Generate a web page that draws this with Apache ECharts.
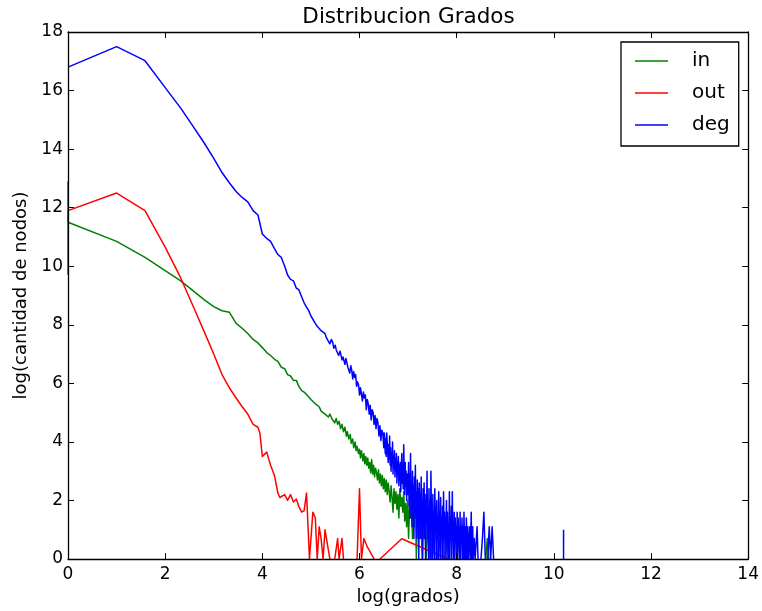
<!DOCTYPE html>
<html>
<head>
<meta charset="utf-8">
<script src="https://cdn.jsdelivr.net/npm/echarts@6/dist/echarts.min.js"></script>
<style>
html,body{margin:0;padding:0;background:#fff;}
#chart{width:762px;height:611px;}
</style>
</head>
<body>
<div id="chart"></div>
<script>
// Series names and colours (matplotlib classic g / r / b)
const seriesNames = ['in', 'out', 'deg'];
const seriesColors = ['#008000', '#ff0000', '#0000ff'];

// Axis settings
const xMin = 0, xMax = 14, xStep = 2;
const yMin = 0, yMax = 18, yStep = 2;

// [log(grados), log(cantidad de nodos)]; '-' = gap in the line
const inPoints = [
[0,12.9],[0,11.5],[1,10.85],[1.585,10.3],[2,9.85],[2.32,9.5],[2.585,9.15],[2.807,8.85],[3,8.62],[3.17,8.48],[3.32,8.43],[3.46,8.05],[3.585,7.88],[3.7,7.7],[3.81,7.5],[3.91,7.38],[4,7.22],[4.09,7.05],[4.17,6.95],[4.25,6.82],[4.32,6.75],[4.39,6.55],[4.46,6.5],[4.52,6.3],[4.58,6.25],[4.64,6.1],[4.7,6.1],[4.75,5.9],[4.81,5.75],[4.86,5.7],[4.91,5.62],[4.95,5.6],[5,5.45],[5.04,5.5],[5.09,5.3],[5.13,5.35],[5.17,5.2],[5.21,5.05],[5.25,5.1],[5.29,4.95],[5.32,5.0],[5.36,4.85],[5.39,4.95],[5.43,4.8],[5.46,4.85],[5.49,4.65],[5.52,4.8],[5.55,4.6],[5.58,4.7],[5.61,4.45],[5.64,4.6],[5.67,4.35],[5.7,4.5],[5.73,4.2],[5.75,4.35],[5.78,4.1],[5.81,4.25],[5.83,3.95],[5.86,4.1],[5.88,3.8],[5.91,4.0],[5.93,3.7],[5.95,3.85],[5.98,3.6],[6,3.75],[6.02,3.45],[6.04,3.7],[6.07,3.35],[6.09,3.6],[6.11,3.25],[6.13,3.5],[6.15,3.2],[6.17,3.45],[6.19,3.1],[6.21,3.3],[6.23,2.95],[6.25,3.4],[6.27,2.9],[6.29,3.2],[6.31,2.8],[6.33,3.1],[6.35,2.95],[6.37,2.7],[6.39,3.05],[6.41,2.6],[6.43,2.9],[6.45,2.5],[6.47,2.85],[6.49,2.4],[6.51,2.75],[6.53,2.3],[6.55,2.7],[6.57,2.2],[6.59,2.6],[6.61,2.3],[6.63,1.95],[6.65,2.5],[6.67,2.1],[6.69,1.6],[6.71,2.4],[6.73,1.9],[6.75,2.3],[6.77,1.7],[6.79,2.2],[6.81,1.4],[6.83,2.4],[6.85,1.8],[6.87,2.1],[6.89,1.6],[6.91,2.3],[6.93,1.3],[6.95,1.9],[6.97,1.1],[6.99,2.0],[7.01,0.7],[7.03,1.8],[7.05,1.4],[7.07,2.0],[7.09,0.7],[7.11,1.6],[7.13,1.1],[7.15,1.9],[7.17,0],[7.19,1.4],[7.21,1.6],[7.23,0.7],[7.25,1.9],[7.27,1.1],[7.29,0],[7.31,1.4],[7.33,0.7],[7.35,1.1],[7.37,0],[7.39,0.7],[7.41,1.4],[7.43,0],[7.46,1.1],[7.49,0],[7.52,0.7],[7.55,0],[7.57,'-'],[7.6,0],[7.64,0.7],[7.67,0],[7.7,'-'],[7.75,0],[7.8,0.7],[7.83,0],[7.9,'-'],[8.0,0],[8.04,0.7],[8.07,0],[8.1,'-'],[8.17,0],[8.2,0.7],[8.23,0],[8.4,'-'],[8.6,0],[8.63,0.7],[8.66,0]
];

const outPoints = [
[0,9.7],[0,11.9],[1,12.5],[1.585,11.9],[2,10.65],[2.32,9.6],[2.585,8.6],[2.807,7.75],[3,7.0],[3.17,6.3],[3.32,5.85],[3.46,5.5],[3.585,5.2],[3.7,4.95],[3.81,4.6],[3.91,4.5],[3.95,4.3],[4.0,3.5],[4.09,3.65],[4.17,3.2],[4.25,2.85],[4.32,2.25],[4.36,2.1],[4.46,2.2],[4.52,2.0],[4.58,2.2],[4.64,1.95],[4.7,2.05],[4.75,1.8],[4.81,1.6],[4.86,1.65],[4.91,2.25],[4.97,0],[5.04,1.6],[5.09,1.4],[5.13,0],[5.17,1.1],[5.21,0.7],[5.25,0],[5.29,1.0],[5.32,0.7],[5.36,0.7],[5.39,0],[5.44,'-'],[5.49,0],[5.55,0.7],[5.58,0],[5.64,0.7],[5.67,0],[5.8,'-'],[5.95,0],[6.0,2.4],[6.04,0],[6.09,0.7],[6.15,0.45],[6.3,0],[6.36,'-'],[6.42,0],[6.87,0.69],[7.82,0]
];

const degPoints = [
[0,16.8],[1,17.5],[1.585,17.02],[2,16.1],[2.32,15.4],[2.585,14.75],[2.807,14.2],[3,13.68],[3.17,13.2],[3.32,12.85],[3.46,12.55],[3.585,12.35],[3.7,12.2],[3.81,11.9],[3.91,11.75],[4,11.1],[4.09,10.95],[4.17,10.85],[4.25,10.6],[4.32,10.4],[4.39,10.3],[4.46,10.0],[4.52,9.7],[4.58,9.55],[4.64,9.5],[4.7,9.25],[4.75,9.2],[4.81,8.95],[4.86,8.75],[4.91,8.6],[4.95,8.5],[5,8.3],[5.04,8.25],[5.09,8.05],[5.13,7.95],[5.17,7.95],[5.21,7.8],[5.25,7.75],[5.29,7.7],[5.32,7.55],
[5.36,7.6],[5.39,7.35],[5.42,7.5],[5.45,7.4],[5.47,7.2],[5.5,7.3],[5.52,7.15],[5.55,7.2],[5.57,6.95],[5.6,7.1],[5.62,7.05],[5.64,6.8],[5.66,6.9],[5.68,6.95],[5.7,6.65],[5.72,6.85],[5.74,6.8],[5.76,6.55],[5.78,6.6],[5.8,6.35],[5.82,6.6],[5.84,6.45],[5.86,6.15],[5.88,6.4],[5.9,6.2],[5.92,6.3],[5.94,5.9],[5.96,6.05],[5.98,5.95],[6.0,5.6],[6.02,5.85],[6.04,5.8],[6.06,5.4],[6.08,5.7],[6.1,5.5],[6.12,5.6],[6.14,5.1],[6.16,5.45],[6.18,5.3],[6.2,4.95],[6.22,5.25],[6.24,4.75],[6.26,5.1],[6.28,5.0],[6.3,4.6],[6.32,4.9],[6.34,4.45],[6.36,4.8],[6.38,4.65],[6.4,4.2],[6.42,4.55],[6.44,4.05],[6.46,4.4],[6.48,4.3],
[6.50,3.8],[6.51,4.3],[6.52,4.1],[6.53,3.6],[6.54,4.1],[6.55,3.5],[6.56,4.3],[6.57,4.0],[6.58,3.7],[6.59,3.3],[6.60,3.9],[6.61,3.4],[6.62,4.2],[6.63,3.2],[6.64,3.8],[6.65,3.0],[6.66,3.6],[6.67,3.3],[6.68,4.0],[6.69,2.9],[6.70,3.5],[6.71,3.1],[6.72,3.7],[6.73,2.8],[6.74,3.4],[6.75,3.0],[6.76,3.6],[6.77,2.6],[6.78,3.3],[6.79,2.9],[6.80,3.5],[6.81,2.5],[6.82,3.2],[6.83,2.7],[6.84,3.3],[6.85,2.3],[6.86,3.0],[6.87,3.6],[6.88,2.6],[6.89,3.1],[6.90,2.4],[6.91,3.9],[6.92,2.8],[6.93,2.2],[6.94,3.3],[6.95,2.5],[6.96,3.0],[6.97,2.0],[6.98,2.9],[6.99,2.4],
[7.00,2.2],[7.01,3.3],[7.02,1.8],[7.03,2.9],[7.04,1.4],[7.05,3.6],[7.06,2.1],[7.07,2.6],[7.08,1.1],[7.09,3.0],[7.10,1.8],[7.11,2.5],[7.12,0.7],[7.13,2.8],[7.14,1.6],[7.15,3.2],[7.16,1.4],[7.17,2.3],[7.18,0.7],[7.19,2.7],[7.20,1.1],[7.21,2.4],[7.22,0],[7.23,2.6],[7.24,1.6],[7.25,2.2],[7.26,0.7],[7.27,2.8],[7.28,1.4],[7.29,2.0],[7.30,0],[7.31,2.4],[7.32,1.1],[7.33,2.6],[7.34,0.7],[7.35,2.2],[7.36,0],[7.37,2.0],[7.38,1.4],[7.39,3.0],[7.40,0.7],[7.41,1.8],[7.42,0],[7.43,2.4],[7.44,1.1],[7.45,2.0],[7.46,0],[7.47,3.0],[7.48,1.4],[7.49,1.8],[7.50,0],[7.51,2.2],[7.52,0.7],[7.53,1.6],[7.54,0],[7.55,2.4],[7.56,1.1],[7.57,1.8],[7.58,0],[7.59,2.0],[7.60,0.7],[7.61,1.4],[7.62,0],[7.63,2.3],[7.64,1.1],[7.65,1.6],[7.66,0],[7.67,2.1],[7.68,0.7],[7.69,1.4],[7.70,0],[7.71,1.8],[7.72,0],[7.73,2.3],[7.74,0.7],[7.75,1.6],[7.76,0],[7.77,1.4],[7.78,1.1],[7.79,2.0],[7.80,0],[7.81,1.6],[7.82,0.7],[7.83,1.1],[7.84,0],[7.85,2.3],[7.86,0],[7.87,1.4],[7.88,0.7],[7.89,1.8],[7.90,0],[7.91,2.3],[7.92,0.7],[7.93,1.1],[7.94,0],[7.95,1.6],[7.96,0],[7.97,1.4],[7.98,0.7],[7.99,1.1],[8.00,0],[8.01,1.6],[8.02,0],[8.03,1.4],[8.04,0.7],[8.05,1.1],[8.06,0],[8.07,1.6],[8.08,0],[8.09,1.1],[8.10,0.7],[8.11,1.4],[8.12,0],[8.13,1.1],[8.14,0],[8.15,1.6],[8.16,0.7],[8.17,0],[8.18,1.1],[8.19,0],[8.20,1.4],[8.21,0.7],[8.22,0],[8.23,1.1],[8.24,0],[8.26,0.7],[8.27,1.1],[8.28,0],[8.30,1.6],[8.31,0],[8.33,1.1],[8.34,0],[8.36,0.7],[8.38,0],[8.42,1.1],[8.44,0],[8.47,'-'],[8.5,0],[8.53,0.7],[8.56,1.6],[8.59,0],[8.62,'-'],[8.64,0],[8.67,1.1],[8.7,0],[8.73,1.1],[8.76,0],[9.5,'-'],[10.2,0],[10.2,1.0]
];

const allPoints = [inPoints, outPoints, degPoints];
const FONT = 'DejaVu Sans';

const chart = echarts.init(document.getElementById('chart'), null, {renderer: 'canvas'});

function axisCommon(showLabel) {
  return {
    type: 'value',
    z: 5,
    axisLine: {show: true, onZero: false, lineStyle: {color: '#000', width: 1.3}},
    axisTick: {show: true, inside: true, length: 6, lineStyle: {color: '#000', width: 1}},
    axisLabel: {show: showLabel, color: '#000', fontFamily: FONT, fontSize: 17},
    splitLine: {show: false}
  };
}

const option = {
  animation: false,
  backgroundColor: '#fff',
  title: {
    text: 'Distribucion Grados',
    left: 408.5,
    top: 6,
    padding: 0,
    textAlign: 'center',
    textStyle: {fontFamily: FONT, fontSize: 21.5, fontWeight: 'normal', color: '#000'}
  },
  legend: {
    data: seriesNames,
    orient: 'vertical',
    left: 621,
    top: 42,
    padding: [9, 9, 11, 14],
    borderColor: '#000',
    borderWidth: 1.3,
    borderRadius: 0,
    backgroundColor: '#fff',
    icon: 'rect',
    itemWidth: 33,
    itemHeight: 1.5,
    itemGap: 12,
    textStyle: {fontFamily: FONT, fontSize: 20, color: '#000', lineHeight: 20, padding: [0, 0, 0, 19]}
  },
  grid: {left: 68, right: 13, top: 32, bottom: 52, containLabel: false},
  xAxis: [
    Object.assign(axisCommon(true), {
      position: 'bottom', min: xMin, max: xMax, interval: xStep,
      name: 'log(grados)', nameLocation: 'middle', nameGap: 28,
      nameTextStyle: {fontFamily: FONT, fontSize: 18, color: '#000'},
      axisLabel: {show: true, color: '#000', fontFamily: FONT, fontSize: 17, margin: 7}
    }),
    Object.assign(axisCommon(false), {position: 'top', min: xMin, max: xMax, interval: xStep})
  ],
  yAxis: [
    Object.assign(axisCommon(true), {
      position: 'left', min: yMin, max: yMax, interval: yStep,
      name: 'log(cantidad de nodos)', nameLocation: 'middle', nameGap: 37,
      nameTextStyle: {fontFamily: FONT, fontSize: 18, color: '#000'},
      axisLabel: {show: true, color: '#000', fontFamily: FONT, fontSize: 17, margin: 5}
    }),
    Object.assign(axisCommon(false), {position: 'right', min: yMin, max: yMax, interval: yStep})
  ],
  series: seriesNames.map((name, i) => ({
    name: name,
    type: 'line',
    xAxisIndex: 0,
    yAxisIndex: 0,
    data: allPoints[i],
    showSymbol: false,
    symbol: 'none',
    clip: true,
    connectNulls: false,
    color: seriesColors[i],
    itemStyle: {color: seriesColors[i]},
    lineStyle: {color: seriesColors[i], width: 1.5, join: 'round', cap: 'butt'},
    emphasis: {disabled: true},
    z: 2
  }))
};
chart.setOption(option);
</script>
</body>
</html>
